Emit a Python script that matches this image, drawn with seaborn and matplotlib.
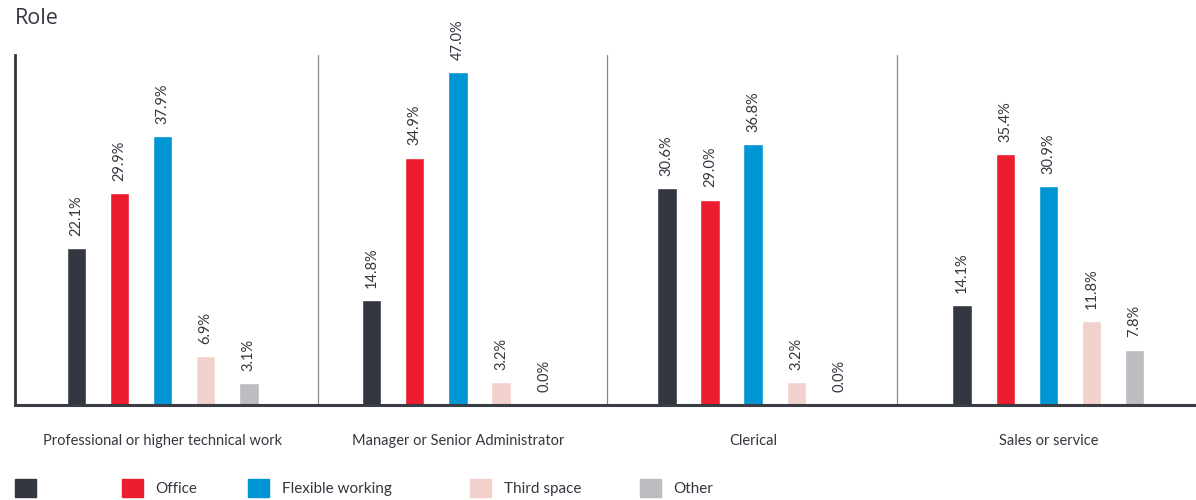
import matplotlib
matplotlib.use("Agg")
import matplotlib.pyplot as plt
import matplotlib.patches as mpatches
import seaborn as sns
import pandas as pd

roles = ["Professional or higher technical work", "Manager or Senior Administrator",
         "Clerical", "Sales or service"]
series = ["", "Office", "Flexible working", "Third space", "Other"]
first_vals = [22.1, 14.8, 30.6, 14.1]
office_vals = [29.9, 34.9, 29.0, 35.4]
flex_vals = [37.9, 47.0, 36.8, 30.9]
third_vals = [6.9, 3.2, 3.2, 11.8]
other_vals = [3.1, 0.0, 0.0, 7.8]
colors = ["#333740", "#ED1C2E", "#0096D6", "#F2D0CB", "#BDBCC1"]

rows = []
for s, vals in zip(series, [first_vals, office_vals, flex_vals, third_vals, other_vals]):
    for r, v in zip(roles, vals):
        rows.append({"Role": r, "Series": s, "Value": v})
df = pd.DataFrame(rows)

sns.set_style("white")
plt.rcParams["font.family"] = ["Lato", "DejaVu Sans"]

fig = plt.figure(figsize=(11.96, 5.0), dpi=100)
ax = fig.add_axes([15 / 1196, 95 / 500, 1 - 15 / 1196, 350 / 500])

sns.barplot(data=df, x="Role", y="Value", hue="Series", order=roles, hue_order=series,
            palette=colors, width=0.73, gap=0.55, ax=ax, legend=False, saturation=1)

for cont in ax.containers:
    ax.bar_label(cont, fmt="%.1f%%", rotation=90, padding=9, fontsize=10.5, color="#333740")

ax.set_xlim(-0.5, 3.5)
ax.set_ylim(0, 49.4)
ax.set_yticks([])
ax.set_xlabel("")
ax.set_ylabel("")
ax.tick_params(axis="x", length=0, pad=21, labelsize=10.5, labelcolor="#333740")
for side in ["top", "right"]:
    ax.spines[side].set_visible(False)
ax.spines["left"].set_color("#333740")
ax.spines["left"].set_linewidth(2)
ax.spines["bottom"].set_color("#3a3d45")
ax.spines["bottom"].set_linewidth(2.2)
for xd in [0.526, 1.505, 2.487]:
    ax.axvline(xd, color="#888888", lw=0.9, zorder=0)

fig.text(15 / 1196, 1 - 19 / 500, "Role", fontsize=15.5, color="#333740",
         va="center", ha="left", family=["Open Sans", "DejaVu Sans"])

legend_x = [15, 122, 248, 470, 640]
for s, c, lx in zip(series, colors, legend_x):
    h = mpatches.Patch(color=c)
    fig.legend(handles=[h], labels=[s], loc="center left",
               bbox_to_anchor=(lx / 1196, 12 / 500), frameon=False,
               borderpad=0, borderaxespad=0, handlelength=1.4, handleheight=1.4,
               handletextpad=0.8, fontsize=11, labelcolor="#333740")

fig.savefig("out.png", dpi=100)
